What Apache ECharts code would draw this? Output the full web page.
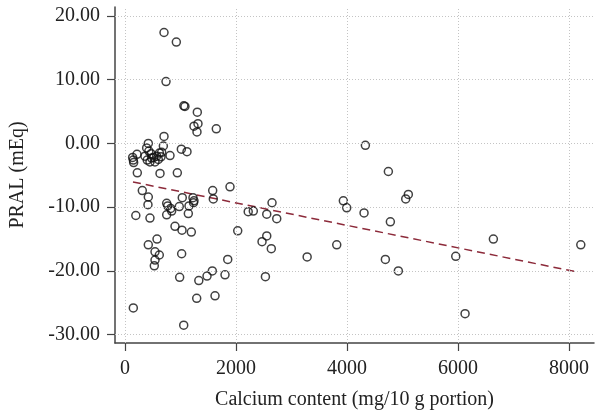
<!DOCTYPE html>
<html>
<head>
<meta charset="utf-8">
<script src="https://cdn.jsdelivr.net/npm/echarts@6/dist/echarts.min.js"></script>
<style>
html,body{margin:0;padding:0;background:#fff;}
#chart{width:597px;height:415px;}
</style>
</head>
<body>
<div id="chart"></div>
<script>
// Calcium content (mg/10 g portion)
var calcium = [
  703, 925, 739, 1060, 1080, 1303, 1243, 1315, 1297, 1645, 703, 1015, 1117, 811,
  138, 156, 150, 216, 390, 420, 360, 400, 450, 470, 540, 571, 600, 649, 661, 691, 480, 430, 620, 520,
  222, 631, 943,
  312, 420, 414, 195, 450, 751, 769, 823, 841, 751, 978, 1032, 1153, 1141, 1225, 1243, 1235, 1580, 1591, 1892,
  901, 1027, 1195, 577, 420, 541, 618, 541, 528, 1021,
  2031, 2220, 2312, 2554, 2649, 2734, 2469, 2554, 2636, 1851,
  985, 1330, 1478, 1573, 1802, 1292, 1622, 150, 1058, 2530,
  3282, 3815, 3934, 3995, 4307, 4331, 4745, 4781, 5058, 5105, 4691, 4925, 5959, 6127, 6637, 8212
];
// PRAL (mEq)
var pral = [
  17.4, 15.9, 9.7, 5.9, 5.8, 4.9, 2.7, 3.1, 1.8, 2.3, 1.1, -0.9, -1.3, -1.9,
  -2.2, -3.0, -2.6, -1.7, -0.7, 0.0, -2.0, -2.6, -2.9, -1.6, -2.9, -2.0, -2.5, -2.1, -1.4, -0.4, -2.3, -1.2, -1.5, -2.2,
  -4.6, -4.7, -4.6,
  -7.4, -8.4, -9.6, -11.3, -11.7, -9.4, -9.8, -10.2, -10.6, -11.2, -9.9, -8.5, -9.8, -11.0, -8.5, -9.0, -9.3, -7.4, -8.7, -6.8,
  -13.0, -13.6, -13.9, -15.0, -15.9, -17.0, -17.5, -18.3, -19.2, -17.3,
  -13.7, -10.7, -10.6, -11.1, -9.3, -11.8, -15.4, -14.5, -16.5, -18.2,
  -21.0, -21.5, -20.8, -20.0, -20.6, -24.3, -23.9, -25.8, -28.5, -20.9,
  -17.8, -15.9, -9.0, -10.1, -10.9, -0.3, -4.4, -12.3, -8.7, -8.0, -18.2, -20.0, -17.7, -26.7, -15.0, -15.9
];
// Fitted trend line end points
var trendCalcium = [144, 8168];
var trendPral = [-6.05, -20.2];
// Tick values
var xTicks = [0, 2000, 4000, 6000, 8000];
var yTicks = [-30, -20, -10, 0, 10, 20];

var font = '"Liberation Serif", "DejaVu Serif", serif';
var points = calcium.map(function (c, i) { return [c, pral[i]]; });
var trend = trendCalcium.map(function (c, i) { return [c, trendPral[i]]; });

var gridMarks = xTicks.map(function (v) { return { xAxis: v }; })
  .concat(yTicks.map(function (v) { return { yAxis: v }; }));

var chart = echarts.init(document.getElementById('chart'), null, { renderer: 'canvas' });
chart.setOption({
  animation: false,
  backgroundColor: '#fff',
  grid: { left: 115, right: 3, top: 7, bottom: 71, containLabel: false },
  xAxis: {
    type: 'value',
    min: -180, max: 8450,
    name: 'Calcium content (mg/10 g portion)',
    nameLocation: 'middle',
    nameGap: 47,
    nameTextStyle: { fontFamily: font, fontSize: 20, color: '#222' },
    axisLine: { show: true, onZero: false, lineStyle: { color: '#444', width: 1.5 } },
    axisTick: { show: true, customValues: xTicks, length: 8, lineStyle: { color: '#444', width: 1.2 } },
    axisLabel: {
      customValues: xTicks, margin: 16, fontFamily: font, fontSize: 20, color: '#222',
      formatter: function (v) { return String(Math.round(v)); }
    },
    splitLine: { show: false }
  },
  yAxis: {
    type: 'value',
    min: -31.3, max: 21.4,
    name: 'PRAL (mEq)',
    nameLocation: 'middle',
    nameGap: 87,
    nameRotate: 90,
    nameTextStyle: { fontFamily: font, fontSize: 20, color: '#222' },
    axisLine: { show: true, onZero: false, lineStyle: { color: '#444', width: 1.5 } },
    axisTick: { show: true, customValues: yTicks, length: 8, lineStyle: { color: '#444', width: 1.2 } },
    axisLabel: {
      customValues: yTicks, margin: 15, fontFamily: font, fontSize: 20, color: '#222',
      formatter: function (v) { return Number(v).toFixed(2); }
    },
    splitLine: { show: false }
  },
  series: [
    {
      type: 'line',
      data: [],
      silent: true,
      z: 1,
      markLine: {
        silent: true,
        symbol: 'none',
        label: { show: false },
        lineStyle: { type: [1, 2], color: '#c4c4c4', width: 1 },
        data: gridMarks
      }
    },
    {
      type: 'scatter',
      data: points,
      symbol: 'circle',
      symbolSize: 8,
      z: 3,
      itemStyle: { color: 'rgba(0,0,0,0)', borderColor: '#111', borderWidth: 1.5 }
    },
    {
      type: 'line',
      data: trend,
      symbol: 'none',
      z: 2,
      lineStyle: { color: '#8c2a3a', width: 1.5, type: [8, 5] }
    }
  ]
});
</script>
</body>
</html>
